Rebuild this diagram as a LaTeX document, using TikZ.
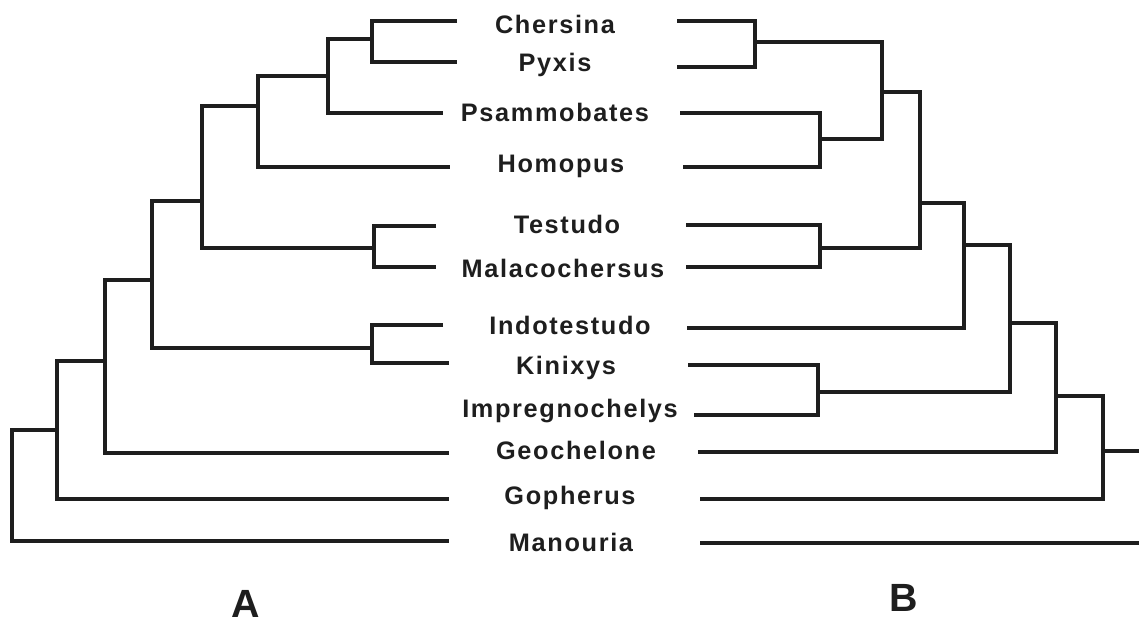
\documentclass[tikz,border=0pt]{standalone}
\usepackage{fontspec}
\setmainfont{Liberation Sans}
\newfontfamily\taxfont{Liberation Sans}[LetterSpace=6.5]
\usepackage{tikz}
\usetikzlibrary{positioning}
\usepackage{xcolor}
\definecolor{inkgray}{RGB}{30,30,30}

\begin{document}
\begin{tikzpicture}[
    x=0.025cm, y=-0.025cm,
    taxon/.style={anchor=base, inner sep=0pt, text=inkgray,
        font=\taxfont\bfseries\fontsize{18}{20}\selectfont},
    panel/.style={anchor=base, inner sep=0pt, text=inkgray,
        font=\bfseries\fontsize{28}{30}\selectfont},
    br/.style={draw=inkgray, line width=2.4pt}
]
    \useasboundingbox (0,0) rectangle (1139,625);

    % Taxa
    \node[taxon] (che) at (555,33) {Chersina};
    \node[taxon] (pyx) at (555,71) {Pyxis};
    \node[taxon] (psa) at (555,121) {Psammobates};
    \node[taxon] (hom) at (561,172) {Homopus};
    \node[taxon] (tes) at (567,233) {Testudo};
    \node[taxon] (mal) at (563,277) {Malacochersus};
    \node[taxon] (ind) at (570,334) {Indotestudo};
    \node[taxon] (kin) at (566,374) {Kinixys};
    \node[taxon] (imp) at (570,417) {Impregnochelys};
    \node[taxon] (geo) at (576,459) {Geochelone};
    \node[taxon] (gop) at (570,504) {Gopherus};
    \node[taxon] (man) at (571,551) {Manouria};

    % Tree A
    \draw[br] (457,21) -| (372,62) -- (457,62);
    \draw[br] (372,39) -| (328,113) -- (443,113);
    \draw[br] (328,76) -| (258,167) -- (450,167);
    \draw[br] (436,226) -| (374,267) -- (436,267);
    \draw[br] (258,106) -| (202,248) -- (374,248);
    \draw[br] (443,325) -| (372,363) -- (449,363);
    \draw[br] (202,201) -| (152,348) -- (372,348);
    \draw[br] (152,280) -| (105,453) -- (449,453);
    \draw[br] (105,361) -| (57,499) -- (449,499);
    \draw[br] (57,430) -| (12,541) -- (449,541);

    % Tree B
    \draw[br] (677,21) -| (755,67) -- (677,67);
    \draw[br] (680,113) -| (820,167) -- (683,167);
    \draw[br] (755,42) -| (882,139) -- (820,139);
    \draw[br] (686,225) -| (820,267) -- (686,267);
    \draw[br] (882,92) -| (920,248) -- (820,248);
    \draw[br] (920,203) -| (964,328) -- (687,328);
    \draw[br] (688,365) -| (818,415) -- (694,415);
    \draw[br] (964,245) -| (1010,392) -- (818,392);
    \draw[br] (1010,323) -| (1056,452) -- (698,452);
    \draw[br] (1056,396) -| (1103,499) -- (700,499);
    \draw[br] (1103,451) -- (1139,451);
    \draw[br] (700,543) -- (1139,543);

    % Panel letters
    \node[panel] (pa) at (246,617) {A};
    \node[panel] (pb) at (904,611) {B};
\end{tikzpicture}
\end{document}
